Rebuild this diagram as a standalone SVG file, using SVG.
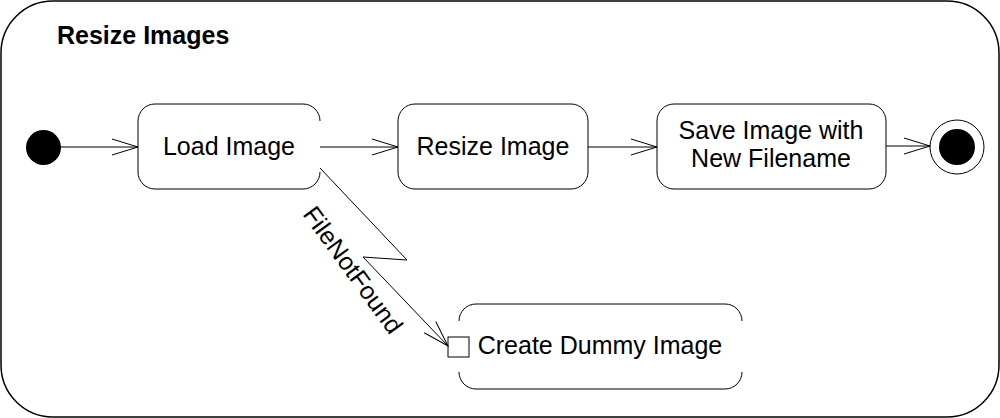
<svg xmlns="http://www.w3.org/2000/svg" width="1000" height="418" viewBox="0 0 1000 418">
<defs>
<style>
.frame{fill:none;stroke:#000;stroke-width:1.5}
.box{fill:none;stroke:#000;stroke-width:1}
.lbl{font-family:"Liberation Sans",Arial,sans-serif;font-size:25px;fill:#000;text-anchor:middle}
.title{font-family:"Liberation Sans",Arial,sans-serif;font-size:25px;font-weight:bold;fill:#000}
.edge{fill:none;stroke:#000;stroke-width:1;marker-end:url(#open)}
</style>
<marker id="open" markerUnits="userSpaceOnUse" markerWidth="30" markerHeight="20" refX="26" refY="8" orient="auto" overflow="visible">
<path d="M0,0 L26,8 L0,16" fill="none" stroke="#000" stroke-width="1"/>
</marker>
</defs>
<rect width="1000" height="418" fill="#fff"/>
<g id="frame">
<rect class="frame" x="1" y="1" width="998" height="416" rx="52" ry="52"/>
<text class="title" x="57" y="44">Resize Images</text>
</g>
<g id="initial">
<circle cx="43.5" cy="147.5" r="17.5" fill="#000"/>
</g>
<g id="load-image">
<path class="box" d="M320,172 A17,17 0 0 1 303,189 H155 A17,17 0 0 1 138,172 V121 A17,17 0 0 1 155,104 H303 A17,17 0 0 1 320,121"/>
<text class="lbl" x="229" y="155">Load Image</text>
</g>
<g id="resize-image">
<rect class="box" x="398" y="104" width="190" height="85" rx="17" ry="17"/>
<text class="lbl" x="493" y="155">Resize Image</text>
</g>
<g id="save-image">
<rect class="box" x="657" y="104" width="229" height="85" rx="17" ry="17"/>
<text class="lbl" x="771" y="139">Save Image with</text>
<text class="lbl" x="771" y="167">New Filename</text>
</g>
<g id="final">
<circle cx="957" cy="147" r="27" fill="none" stroke="#000" stroke-width="1"/>
<circle cx="957" cy="147" r="18" fill="#000"/>
</g>
<g id="create-dummy">
<path class="box" d="M459,321 A17,17 0 0 1 476,304 H725 A17,17 0 0 1 742,321"/>
<path class="box" d="M742,372 A17,17 0 0 1 725,389 H476 A17,17 0 0 1 459,372"/>
<rect class="box" x="448" y="337" width="21" height="20"/>
<text class="lbl" x="600" y="354">Create Dummy Image</text>
</g>
<g id="connectors">
<line class="edge" x1="61" y1="147" x2="138" y2="147"/>
<line class="edge" x1="320" y1="147" x2="398" y2="147"/>
<line class="edge" x1="588" y1="147" x2="657" y2="147"/>
<line class="edge" x1="886" y1="146" x2="930" y2="146"/>
<path class="edge" d="M320,168 L407,260 L363,257 L448,346"/>
<text class="lbl" transform="translate(346,275) rotate(54)" x="0" y="0">FileNotFound</text>
</g>
</svg>
